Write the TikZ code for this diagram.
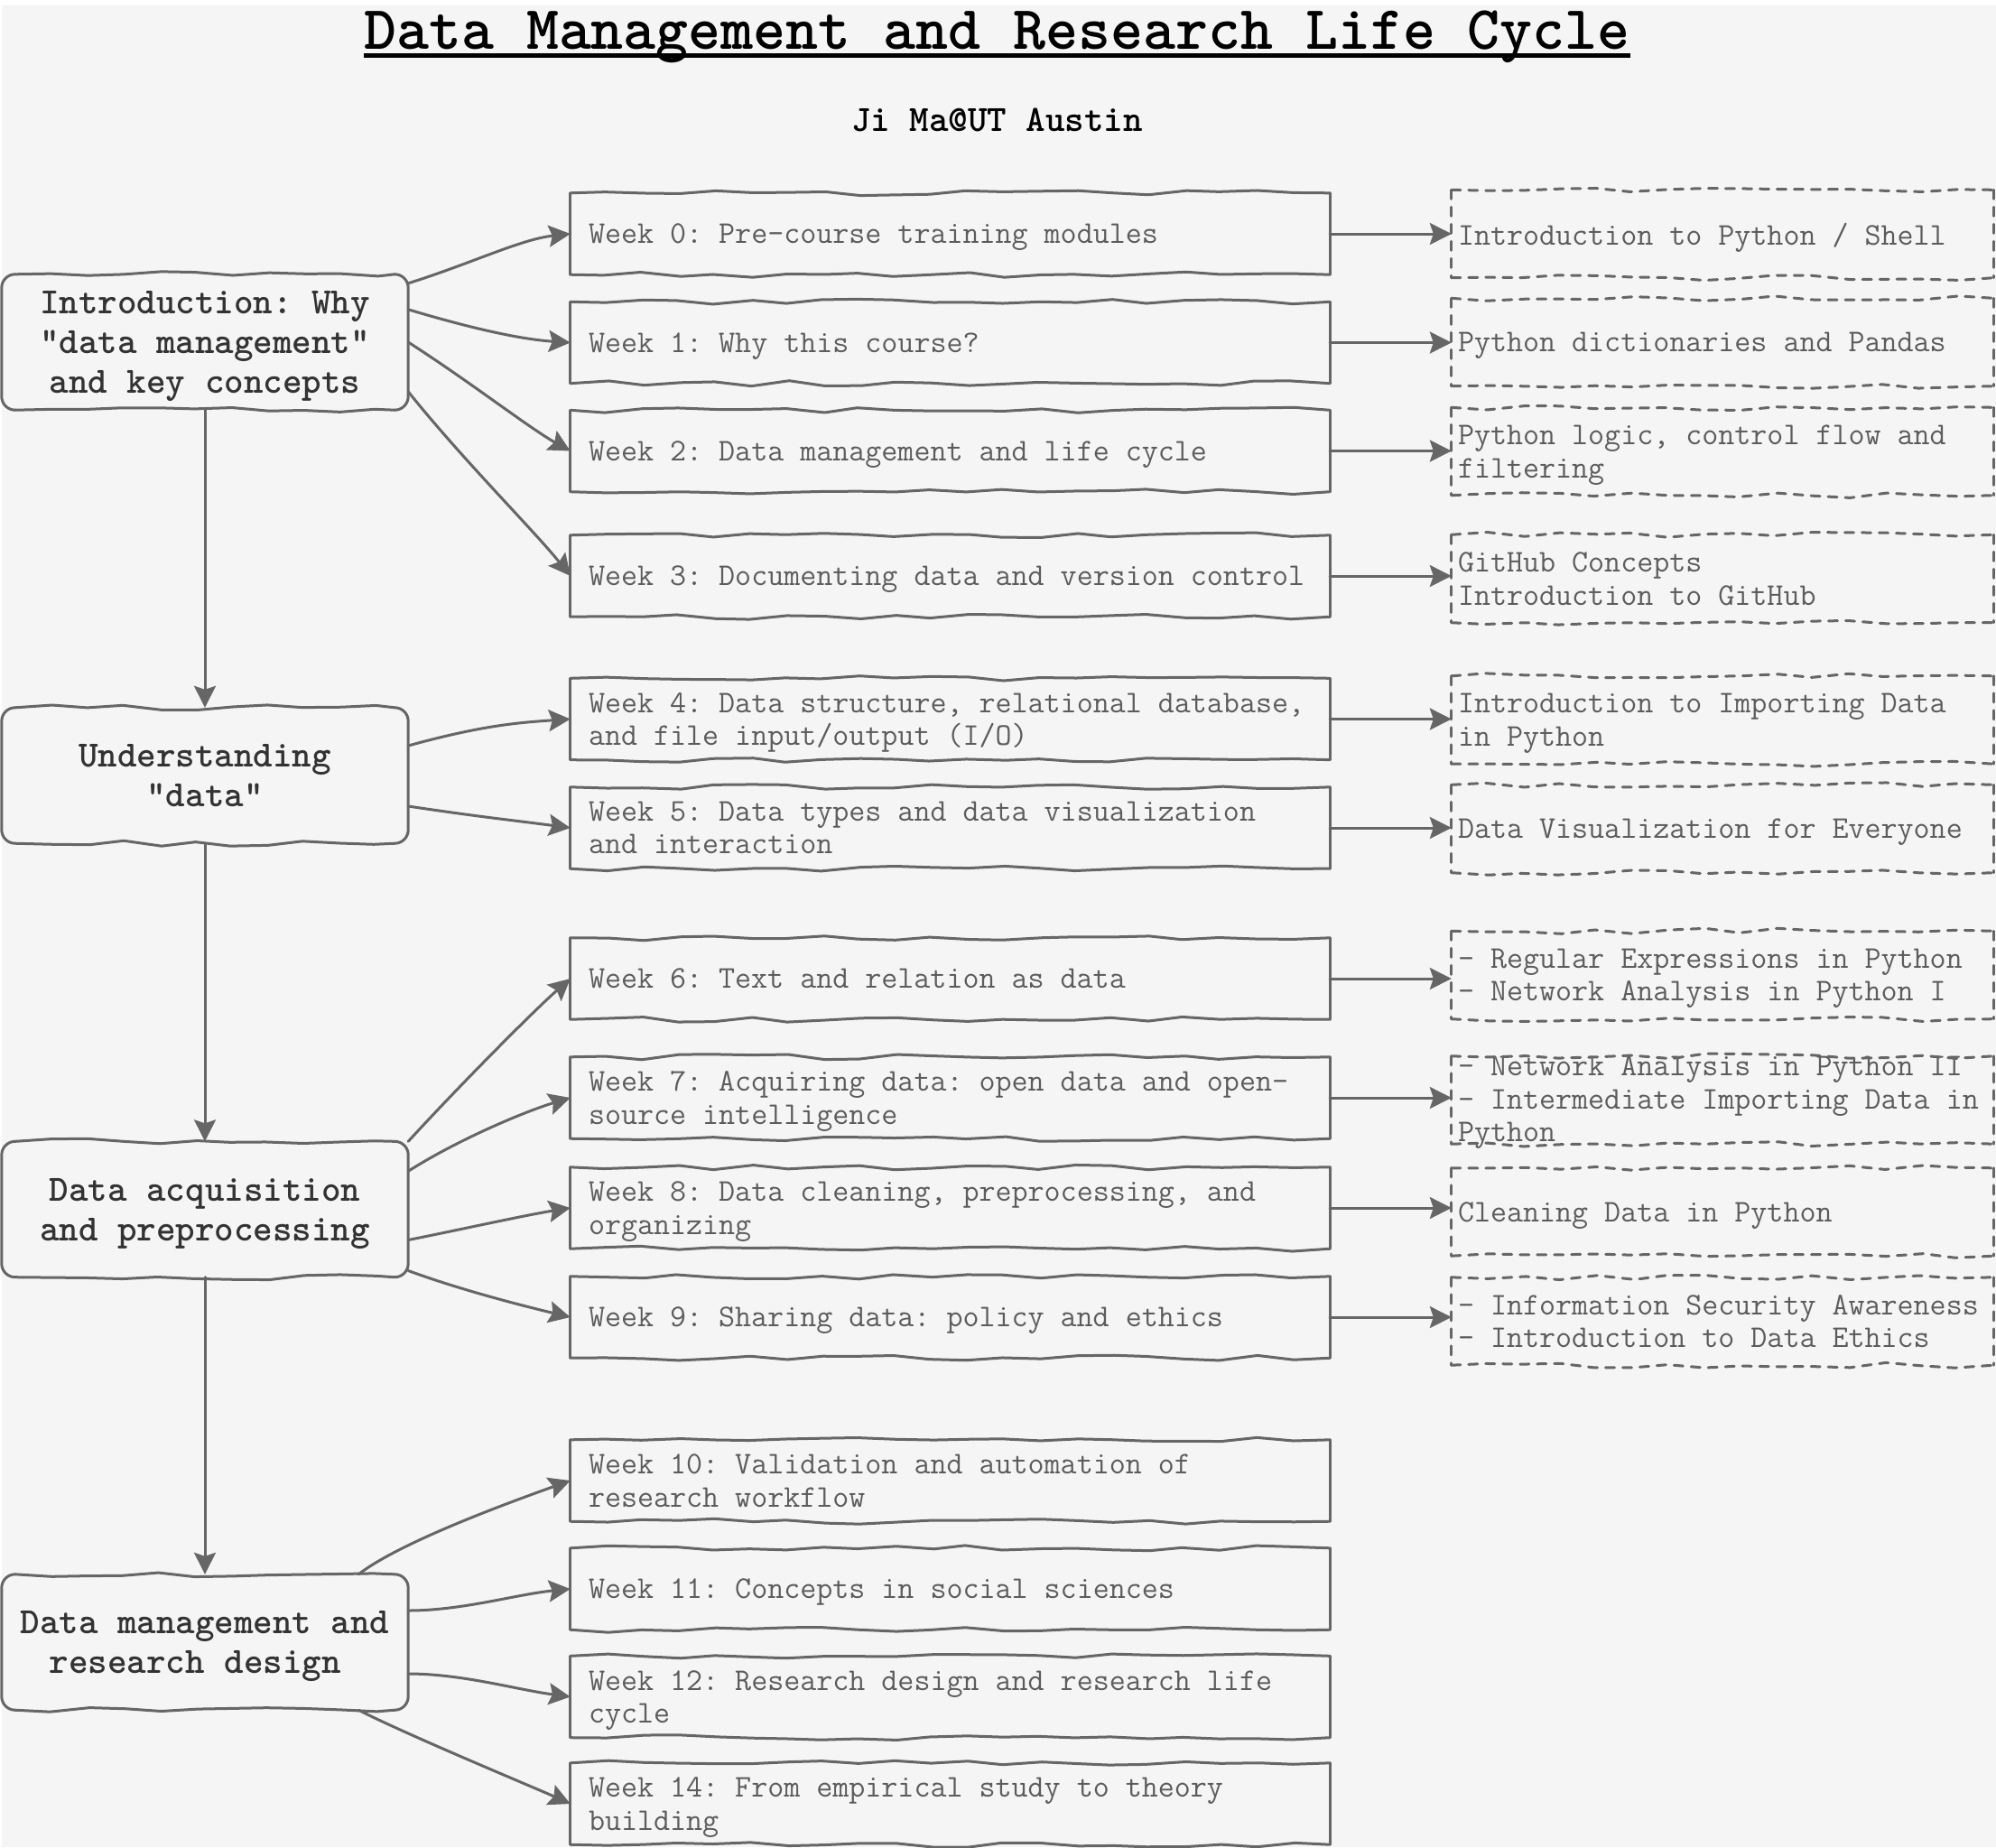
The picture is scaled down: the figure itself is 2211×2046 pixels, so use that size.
\documentclass[tikz,border=0pt]{standalone}
\usepackage{fontspec}
\usetikzlibrary{arrows.meta,decorations.pathmorphing}
\definecolor{bg}{HTML}{F5F5F5}
\definecolor{ln}{HTML}{666666}
\definecolor{mtx}{HTML}{333333}
\definecolor{wtx}{HTML}{5C5C5C}
\newcommand\zdp[1]{\raisebox{0pt}[\height][0pt]{#1}}
\newcommand\sqoutline[3]{%
  \draw[#2] (#1.north west) -- (#1.north east);
  \draw[#2] (#1.south west) -- (#1.south east);
  \draw[#3] (#1.north west) -- (#1.south west);
  \draw[#3] (#1.north east) -- (#1.south east);}
\newcommand\rdoutline[1]{%
  \draw[wob] ([xshift=15pt]#1.north west) -- ([xshift=-15pt]#1.north east);
  \draw[wob] ([xshift=15pt]#1.south west) -- ([xshift=-15pt]#1.south east);
  \draw[lnst, rounded corners=15pt] ([xshift=-15pt]#1.north east) -- (#1.north east) -- (#1.south east) -- ([xshift=-15pt]#1.south east);
  \draw[lnst, rounded corners=15pt] ([xshift=15pt]#1.north west) -- (#1.north west) -- (#1.south west) -- ([xshift=15pt]#1.south west);}
\begin{document}
\begin{tikzpicture}[x=1pt,y=-1pt,
  lnst/.style={draw=ln, line width=3pt, line cap=round, line join=round},
  dln/.style={lnst, dash pattern=on 10pt off 9pt},
  wob/.style={lnst, decorate, decoration={random steps, segment length=40pt, amplitude=3pt}},
  dwob/.style={wob, dash pattern=on 10pt off 9pt},
  conn/.style={draw=ln, line width=3pt, line cap=round, -{Stealth[length=24pt,width=24pt,inset=4pt]}},
  mainbox/.style={minimum width=450pt, minimum height=150pt, inner sep=0pt, align=flush center, text=mtx, font=\ttfamily\bfseries\frenchspacing\fontsize{41}{44}\selectfont},
  weekbox/.style={minimum width=841pt, minimum height=90pt, text width=801pt, inner xsep=20pt, inner ysep=0pt, align=flush left, text=wtx, font=\ttfamily\frenchspacing\fontsize{35}{36.5}\selectfont},
  resbox/.style={minimum width=600pt, minimum height=97pt, text width=586pt, inner xsep=7pt, inner ysep=0pt, align=flush left, text=wtx, font=\ttfamily\frenchspacing\fontsize{35}{36.5}\selectfont},
]
\pgfmathsetseed{7}
\useasboundingbox (0,0) rectangle (2211,2046);
\fill[white] (0,0) rectangle (2211,2046);
\fill[bg] (2,6) rectangle (2211,2046);

% title
\node[font=\ttfamily\bfseries\fontsize{68.5}{72}\selectfont, anchor=base, inner sep=0pt] (title) at (1104.5,54) {Data Management and Research Life Cycle};
\draw[line width=5pt] ([yshift=-7pt]title.base west) -- ([yshift=-7pt]title.base east);
\node[font=\ttfamily\bfseries\fontsize{41}{43}\selectfont, anchor=base, inner sep=0pt] (sub) at (1104.5,145) {Ji Ma@UT Austin};

% main boxes
\node[mainbox] (intro) at (227,379) {Introduction: Why\\"data management"\\\zdp{and key concepts}};
\node[mainbox] (und) at (227,859) {Understanding\\"data"};
\node[mainbox] (acq) at (227,1339.5) {Data acquisition\\\zdp{and preprocessing}};
\node[mainbox] (dm) at (227,1819) {Data management and\\\zdp{research design\phantom{x}}};
\rdoutline{intro}
\rdoutline{und}
\rdoutline{acq}
\rdoutline{dm}

% week boxes
\node[weekbox] (w0) at (1052.5,259) {\zdp{Week 0: Pre-course training modules}};
\node[weekbox] (w1) at (1052.5,379.5) {\zdp{Week 1: Why this course?}};
\node[weekbox] (w2) at (1052.5,499.5) {\zdp{Week 2: Data management and life cycle}};
\node[weekbox] (w3) at (1052.5,638) {\zdp{Week 3: Documenting data and version control}};
\node[weekbox] (w4) at (1052.5,796.5) {Week 4: Data structure, relational database,\\\zdp{and file input/output (I/O)}};
\node[weekbox] (w5) at (1052.5,917) {Week 5: Data types and data visualization\\\zdp{and interaction}};
\node[weekbox] (w6) at (1052.5,1084) {\zdp{Week 6: Text and relation as data}};
\node[weekbox] (w7) at (1052.5,1216) {Week 7: Acquiring data: open data and open-\\\zdp{source intelligence}};
\node[weekbox] (w8) at (1052.5,1338) {Week 8: Data cleaning, preprocessing, and\\\zdp{organizing}};
\node[weekbox] (w9) at (1052.5,1459) {\zdp{Week 9: Sharing data: policy and ethics}};
\node[weekbox] (w10) at (1052.5,1640) {Week 10: Validation and automation of\\\zdp{research workflow}};
\node[weekbox] (w11) at (1052.5,1760) {\zdp{Week 11: Concepts in social sciences}};
\node[weekbox] (w12) at (1052.5,1879.5) {Week 12: Research design and research life\\\zdp{cycle}};
\node[weekbox] (w14) at (1052.5,1998) {Week 14: From empirical study to theory\\\zdp{building}};
\foreach \n in {w0,w1,w2,w3,w4,w5,w6,w7,w8,w9,w10,w11,w12,w14}{\sqoutline{\n}{wob}{lnst}}

% resource boxes
\node[resbox] (d1) at (1908,259) {\zdp{Introduction to Python / Shell}};
\node[resbox] (d2) at (1908,379) {\zdp{Python dictionaries and Pandas}};
\node[resbox] (d3) at (1908,500) {Python logic, control flow and\\\zdp{filtering}};
\node[resbox] (d4) at (1908,641) {GitHub Concepts\\\zdp{Introduction to GitHub}};
\node[resbox] (d5) at (1908,797.5) {Introduction to Importing Data\\\zdp{in Python}};
\node[resbox] (d6) at (1908,918) {\zdp{Data Visualization for Everyone}};
\node[resbox] (d7) at (1908,1080) {- Regular Expressions in Python\\\zdp{- Network Analysis in Python I}};
\node[resbox] (d8) at (1908,1218.5) {\smash{\raisebox{-9pt}{\parbox[c]{586pt}{\raggedright - Network Analysis in Python II\\- Intermediate Importing Data in\\Python}}}};
\node[resbox] (d9) at (1908,1342.5) {\zdp{Cleaning Data in Python}};
\node[resbox] (d10) at (1908,1463.5) {- Information Security Awareness\\\zdp{- Introduction to Data Ethics}};
\foreach \n in {d1,d2,d3,d4,d5,d6,d7,d8,d9,d10}{\sqoutline{\n}{dwob}{dln}}

% vertical connectors
\draw[conn] (intro.south) -- (und.north);
\draw[conn] (und.south) -- (acq.north);
\draw[conn] (acq.south) -- (dm.north);

% main -> week
\draw[conn] ([yshift=-10pt]intro.north east) .. controls +(70,-22) and +(-55,6) .. (w0.west);
\draw[conn] ([yshift=-39pt]intro.north east) .. controls +(60,18) and +(-60,-4) .. (w1.west);
\draw[conn] (intro.east) .. controls +(70,45) and +(-45,-25) .. (w2.west);
\draw[conn] ([yshift=-130pt]intro.north east) .. controls +(60,75) and +(-40,-50) .. (w3.west);
\draw[conn] ([yshift=33pt]und.east) .. controls +(80,-22) and +(-60,4) .. (w4.west);
\draw[conn] ([yshift=-34pt]und.east) .. controls +(80,12) and +(-60,-8) .. (w5.west);
\draw[conn] (acq.north east) .. controls +(55,-60) and +(-40,35) .. (w6.west);
\draw[conn] ([yshift=-33pt]acq.north east) .. controls +(55,-35) and +(-50,15) .. (w7.west);
\draw[conn] ([yshift=-34pt]acq.east) .. controls +(60,-12) and +(-50,8) .. (w8.west);
\draw[conn] ([yshift=-68pt]acq.east) .. controls +(60,22) and +(-50,-12) .. (w9.west);
\draw[conn] ([xshift=-55pt]dm.north east) .. controls +(45,-35) and +(-70,25) .. (w10.west);
\draw[conn] ([yshift=35pt]dm.east) .. controls +(60,0) and +(-60,6) .. (w11.west);
\draw[conn] ([yshift=-35pt]dm.east) .. controls +(60,0) and +(-60,-8) .. (w12.west);
\draw[conn] ([xshift=-55pt]dm.south east) .. controls +(55,28) and +(-40,-18) .. (w14.west);

% week -> resources
\draw[conn] (w0.east) -- (w0.east -| d1.west);
\draw[conn] (w1.east) -- (w1.east -| d2.west);
\draw[conn] (w2.east) -- (w2.east -| d3.west);
\draw[conn] (w3.east) -- (w3.east -| d4.west);
\draw[conn] (w4.east) -- (w4.east -| d5.west);
\draw[conn] (w5.east) -- (w5.east -| d6.west);
\draw[conn] (w6.east) -- (w6.east -| d7.west);
\draw[conn] (w7.east) -- (w7.east -| d8.west);
\draw[conn] (w8.east) -- (w8.east -| d9.west);
\draw[conn] (w9.east) -- (w9.east -| d10.west);
\end{tikzpicture}
\end{document}
